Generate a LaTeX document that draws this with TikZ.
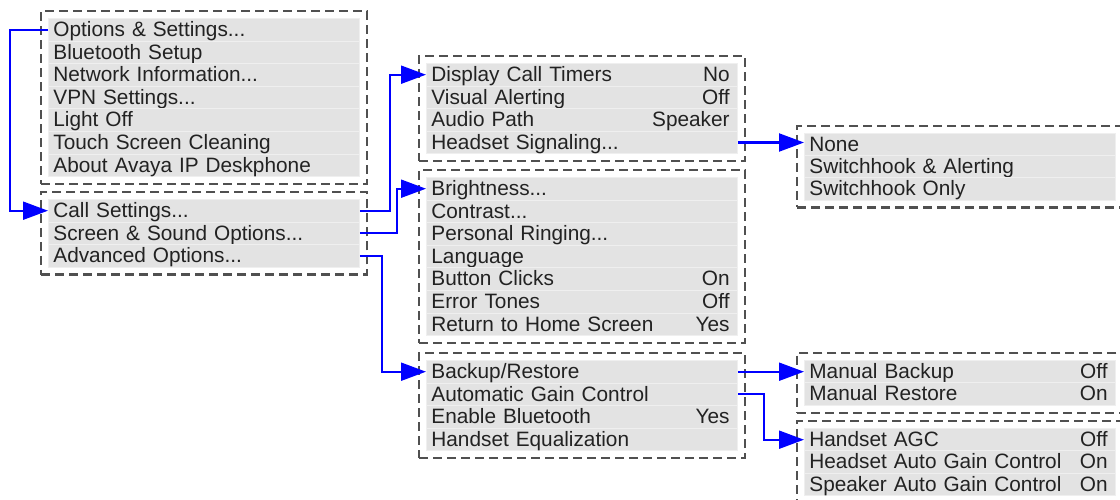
\documentclass[tikz,border=0pt]{standalone}
\usepackage{fontspec}
\setmainfont{Liberation Sans}
\usetikzlibrary{arrows.meta,fit}
\definecolor{rowgray}{HTML}{E3E3E3}
\definecolor{rowline}{HTML}{EFEFEF}
\definecolor{framegray}{HTML}{505050}
\definecolor{textgray}{HTML}{222222}
\newcommand{\menudots}{...}

\begin{document}
\begin{tikzpicture}[
    x=1pt, y=-1pt,
    >={Triangle[length=25pt,width=18pt]},
    every node/.style={font=\fontsize{20.8}{24}\selectfont, text=textgray},
    menurow/.style={anchor=north west, fill=rowgray, draw=rowline, line width=0.8pt,
        text width=301pt, align=left, inner xsep=5pt, inner ysep=0pt,
        minimum height=22.6pt, text height=17pt, text depth=3.5pt},
    menuval/.style={anchor=east, inner sep=0pt, xshift=-8pt, text height=17pt, text depth=3.5pt},
    menubox/.style={draw=framegray, line width=2.3pt, dash pattern=on 9pt off 5pt, inner sep=7pt},
    link/.style={->, blue, line width=2.1pt}
]
    \useasboundingbox (0,0) rectangle (1120,500);
    \clip (0,0) rectangle (1120,500);
    \fill[white] (0,0) rectangle (1120,500);

    % main menu
    \foreach \t [count=\i] in {Options \& Settings\menudots, Bluetooth Setup, Network Information\menudots,
            VPN Settings\menudots, Light Off, Touch Screen Cleaning, About Avaya IP Deskphone}
        \node[menurow] (main\i) at (48,{18+(\i-1)*22.6}) {\t};
    \node[menubox, fit=(main1)(main7)] (mainbox) {};

    \foreach \t [count=\i] in {Call Settings\menudots, Screen \& Sound Options\menudots, Advanced Options\menudots}
        \node[menurow] (set\i) at (48,{199+(\i-1)*22.6}) {\t};
    \node[menubox, fit=(set1)(set3)] (setbox) {};

    % second level
    \foreach \t/\v [count=\i] in {Display Call Timers/No, Visual Alerting/Off,
            Audio Path/Speaker, Headset Signaling\menudots/{}} {
        \node[menurow] (call\i) at (426,{63+(\i-1)*22.6}) {\t};
        \node[menuval] (callv\i) at (call\i.east) {\v};
    }
    \node[menubox, fit=(call1)(call4)] (callbox) {};

    \foreach \t/\v [count=\i] in {Brightness\menudots/{}, Contrast\menudots/{}, Personal Ringing\menudots/{},
            Language/{}, Button Clicks/On, Error Tones/Off, Return to Home Screen/Yes} {
        \node[menurow] (scr\i) at (426,{177+(\i-1)*22.6}) {\t};
        \node[menuval] (scrv\i) at (scr\i.east) {\v};
    }
    \node[menubox, fit=(scr1)(scr7)] (scrbox) {};

    \foreach \t/\v [count=\i] in {Backup\slash Restore/{}, Automatic Gain Control/{},
            Enable Bluetooth/Yes, Handset Equalization/{}} {
        \node[menurow] (adv\i) at (426,{360+(\i-1)*22.6}) {\t};
        \node[menuval] (advv\i) at (adv\i.east) {\v};
    }
    \node[menubox, fit=(adv1)(adv4)] (advbox) {};

    % third level
    \foreach \t [count=\i] in {None, Switchhook \& Alerting, Switchhook Only}
        \node[menurow] (sig\i) at (804,{133+(\i-1)*22}) {\t};
    \node[menubox, fit=(sig1)(sig3)] (sigbox) {};

    \foreach \t/\v [count=\i] in {Manual Backup/Off, Manual Restore/On} {
        \node[menurow] (bak\i) at (804,{360+(\i-1)*22.3}) {\t};
        \node[menuval] (bakv\i) at (bak\i.east) {\v};
    }
    \node[menubox, fit=(bak1)(bak2)] (bakbox) {};

    \foreach \t/\v [count=\i] in {Handset AGC/Off, Headset Auto Gain Control/On,
            Speaker Auto Gain Control/On} {
        \node[menurow] (agc\i) at (804,{428+(\i-1)*22.3}) {\t};
        \node[menuval] (agcv\i) at (agc\i.east) {\v};
    }
    \node[menubox, fit=(agc1)(agc3)] (agcbox) {};

    % links
    \draw[link] (main1.west) -- ++(-38,0) |- (set1.west);
    \draw[link] (set1.east) -- ++(30,0) |- (call1.west);
    \draw[link] (set2.east) -- ++(37,0) |- (scr1.west);
    \draw[link] (set3.east) -- ++(22,0) |- (adv1.west);
    \draw[link] (call4.east) -- (call4.east -| sig1.west);
    \draw[link] (adv1.east) -- (bak1.west);
    \draw[link] (adv2.east) -- ++(26,0) |- (agc1.west);
\end{tikzpicture}
\end{document}
